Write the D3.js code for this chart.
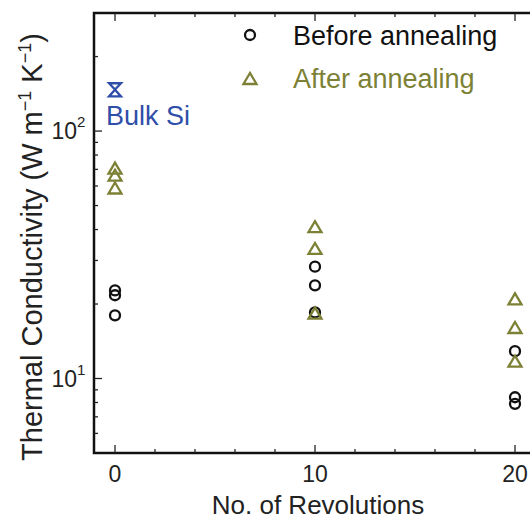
<!DOCTYPE html>
<html>
<head>
<meta charset="utf-8">
<script src="https://cdn.jsdelivr.net/npm/d3@7"></script>
<style>
  body { margin: 0; background: #fff; }
  svg text { font-family: "Liberation Sans", Arial, sans-serif; }
</style>
</head>
<body>
<div id="chart"></div>
<script>
// data
var revolutions = [0, 10, 20];
var before = [
    [22.7, 21.7, 18.0],
    [28.3, 23.8, 18.5],
    [12.9, 8.4, 7.9]
];
var after = [
    [70.5, 66, 58.6],
    [40.9, 33.4, 18.3],
    [20.9, 16.0, 11.7]
];
var bulkSi = { x: 0, value: 147, low: 138, high: 156 };
var xTicks = [0, 10, 20];
var xMinorTicks = [2, 4, 6, 8, 12, 14, 16, 18];
var yTicks = [10, 100];
var yMinorTicks = [6, 7, 8, 9, 20, 30, 40, 50, 60, 70, 80, 90, 200];

var width = 530, height = 520;
var plotLeft = 94, plotRight = 535, plotTop = 13, plotBottom = 453;

var svg = d3.select('#chart').append('svg')
    .attr('width', width)
    .attr('height', height);

var x = d3.scaleLinear().domain([-1.05, 21]).range([plotLeft, plotRight]);
var y = d3.scaleLog().domain([5, 300]).range([plotBottom, plotTop]);

var olive = '#7c8135';
var blue = '#2f4ea8';

// frame
svg.append('rect')
    .attr('x', plotLeft).attr('y', plotTop)
    .attr('width', plotRight - plotLeft).attr('height', plotBottom - plotTop)
    .attr('fill', 'none')
    .attr('stroke', '#111')
    .attr('stroke-width', 2.5);

// x ticks (inward, top and bottom)
function xtick(v, len) {
    svg.append('line').attr('x1', x(v)).attr('x2', x(v))
        .attr('y1', plotBottom).attr('y2', plotBottom - len)
        .attr('stroke', '#222').attr('stroke-width', 1.3);
    svg.append('line').attr('x1', x(v)).attr('x2', x(v))
        .attr('y1', plotTop).attr('y2', plotTop + len)
        .attr('stroke', '#222').attr('stroke-width', 1.3);
}
xTicks.forEach(function (v) { xtick(v, 8); });
xMinorTicks.forEach(function (v) { xtick(v, 4); });

// y ticks
function ytick(v, len) {
    svg.append('line').attr('x1', plotLeft).attr('x2', plotLeft + len)
        .attr('y1', y(v)).attr('y2', y(v))
        .attr('stroke', '#222').attr('stroke-width', 1.3);
}
yTicks.forEach(function (v) { ytick(v, 8); });
yMinorTicks.forEach(function (v) { ytick(v, 4); });

// x tick labels
svg.selectAll('.xlab')
    .data(xTicks)
    .enter().append('text')
    .attr('x', function (d) { return x(d); })
    .attr('y', 482)
    .attr('text-anchor', 'middle')
    .style('font-size', '23px')
    .attr('fill', '#222')
    .text(function (d) { return d; });

// y tick labels 10^n
yTicks.forEach(function (v) {
    svg.append('text')
        .attr('x', 77)
        .attr('y', y(v) + 8)
        .attr('text-anchor', 'end')
        .style('font-size', '23px')
        .attr('fill', '#222')
        .text('10');
    svg.append('text')
        .attr('x', 77)
        .attr('y', y(v) - 4)
        .style('font-size', '15px')
        .attr('fill', '#222')
        .text(Math.round(Math.log10(v)));
});

// axis titles
svg.append('text')
    .attr('x', 318)
    .attr('y', 514)
    .attr('text-anchor', 'middle')
    .style('font-size', '26px')
    .attr('fill', '#222')
    .text('No. of Revolutions');

var yt = svg.append('text')
    .attr('transform', 'translate(42,' + 247 + ') rotate(-90)')
    .attr('text-anchor', 'middle')
    .style('font-size', '29px')
    .attr('fill', '#222');
yt.append('tspan').text('Thermal Conductivity (W m');
yt.append('tspan').attr('dy', -11).style('font-size', '18px').text('\u22121');
yt.append('tspan').attr('dy', 11).text(' K');
yt.append('tspan').attr('dy', -11).style('font-size', '18px').text('\u22121');
yt.append('tspan').attr('dy', 11).text(')');

// markers
function triPath(cx, cy) {
    return 'M' + (cx - 6.5) + ',' + (cy + 5) + 'L' + cx + ',' + (cy - 6) + 'L' + (cx + 6.5) + ',' + (cy + 5) + 'Z';
}

var beforePts = [];
var afterPts = [];
revolutions.forEach(function (r, i) {
    before[i].forEach(function (v) { beforePts.push({ x: r, v: v }); });
    after[i].forEach(function (v) { afterPts.push({ x: r, v: v }); });
});

svg.selectAll('.before')
    .data(beforePts)
    .enter().append('circle')
    .attr('cx', function (d) { return x(d.x); })
    .attr('cy', function (d) { return y(d.v); })
    .attr('r', 5)
    .attr('fill', 'none')
    .attr('stroke', '#111')
    .attr('stroke-width', 2.3);

svg.selectAll('.after')
    .data(afterPts)
    .enter().append('path')
    .attr('d', function (d) { return triPath(x(d.x), y(d.v)); })
    .attr('fill', 'none')
    .attr('stroke', olive)
    .attr('stroke-width', 2.3);

// bulk Si hourglass
var bx = x(bulkSi.x), bt = y(bulkSi.high), bb = y(bulkSi.low), bc = y(bulkSi.value);
svg.append('path')
    .attr('d', 'M' + (bx - 6) + ',' + bt + 'L' + (bx + 6) + ',' + bt + 'L' + bx + ',' + bc + 'Z' +
        'M' + (bx - 6) + ',' + bb + 'L' + (bx + 6) + ',' + bb + 'L' + bx + ',' + bc + 'Z')
    .attr('fill', 'none')
    .attr('stroke', blue)
    .attr('stroke-width', 2.3);

svg.append('text')
    .attr('x', 106)
    .attr('y', 125)
    .style('font-size', '27px')
    .attr('fill', blue)
    .text('Bulk Si');

// legend
svg.append('circle')
    .attr('cx', 250).attr('cy', 35).attr('r', 5)
    .attr('fill', 'none').attr('stroke', '#111').attr('stroke-width', 2.3);
svg.append('text')
    .attr('x', 293).attr('y', 45)
    .style('font-size', '27px')
    .attr('fill', '#111')
    .text('Before annealing');

svg.append('path')
    .attr('d', triPath(250, 79))
    .attr('fill', 'none').attr('stroke', olive).attr('stroke-width', 2.3);
svg.append('text')
    .attr('x', 293).attr('y', 88)
    .style('font-size', '27px')
    .attr('fill', olive)
    .text('After annealing');
</script>
</body>
</html>
